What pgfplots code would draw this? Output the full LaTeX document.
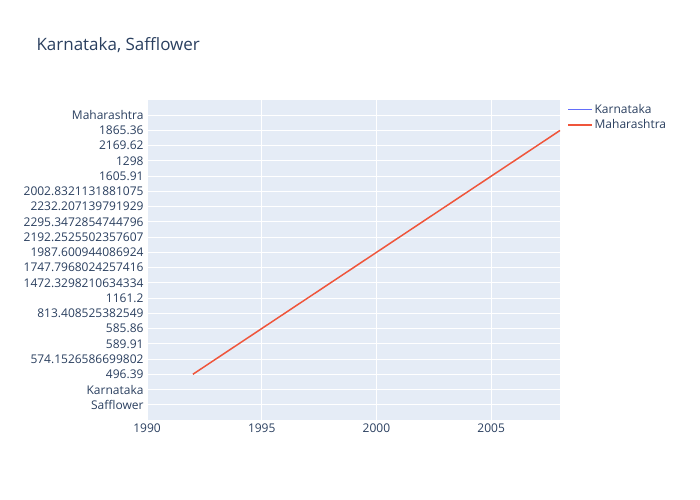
\documentclass[border=0pt]{standalone}
\usepackage{pgfplots}
\pgfplotsset{compat=1.18}
\usepackage{fontspec}
\setmainfont{Open Sans}
\definecolor{bg}{HTML}{E5ECF6}
\definecolor{txt}{HTML}{2A3F5F}
\definecolor{kar}{HTML}{636EFA}
\definecolor{mah}{HTML}{EF553B}
\begin{document}
\begin{tikzpicture}[x=1bp,y=1bp]
\path (0,0) rectangle (700,500);
\node[anchor=west,text=txt,font=\fontsize{17bp}{20bp}\selectfont] at (33,455) {Karnataka, Safflower};
\begin{axis}[at={(147bp,80bp)},anchor=south west,scale only axis,
 width=413bp,height=320bp,
 xmin=1990,xmax=2008,ymin=-1,ymax=20,
 axis background/.style={fill=bg},axis line style={draw=none},
 grid=major,major grid style={white,line width=1pt},
 tick style={draw=none},
 xtick={1990,1995,2000,2005},
 xticklabel style={/pgf/number format/1000 sep={}},
 /pgf/number format/assume math mode=true,
 ytick={0,...,19},
 yticklabels={Safflower,Karnataka,496.39,574.1526586699802,589.91,585.86,813.408525382549,1161.2,1472.3298210634334,1747.7968024257416,1987.600944086924,2192.2525502357607,2295.3472854744796,2232.207139791929,2002.8321131881075,1605.91,1298,2169.62,1865.36,Maharashtra},
 ticklabel style={text=txt,font=\fontsize{12bp}{13bp}\selectfont},
 legend style={at={(1.01,1)},anchor=north west,draw=none,fill=none,text=txt,font=\fontsize{12bp}{13bp}\selectfont,row sep=1pt},
 legend image post style={xscale=1.4},
 legend cell align=left,
 clip=false]
\addlegendimage{kar,line width=1.5pt}
\addlegendentry{Karnataka}
\addplot[mah,line width=1.5pt] coordinates {(1992,2)(1993,3)(1994,4)(1995,5)(1996,6)(1997,7)(1998,8)(1999,9)(2000,10)(2001,11)(2002,12)(2003,13)(2004,14)(2005,15)(2006,16)(2007,17)(2008,18)};
\addlegendentry{Maharashtra}
\end{axis}
\end{tikzpicture}
\end{document}
